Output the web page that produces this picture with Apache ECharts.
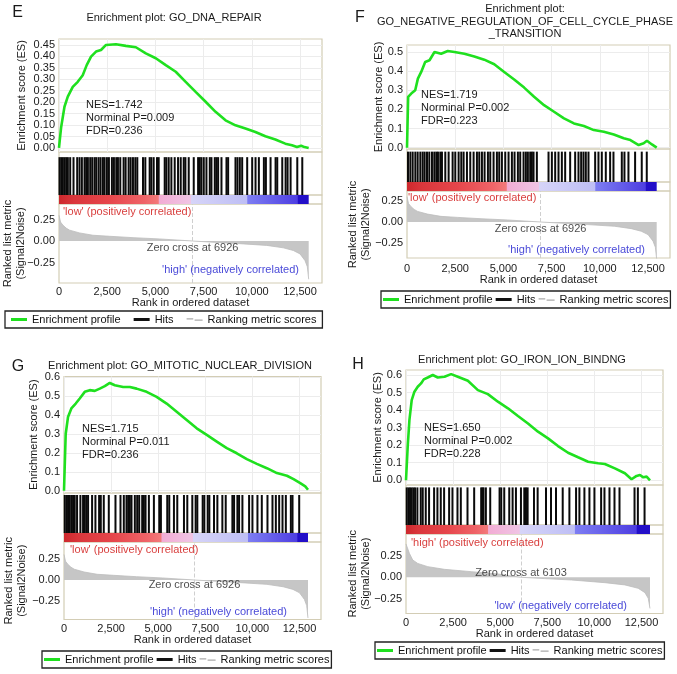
<!DOCTYPE html>
<html><head><meta charset="utf-8">
<script src="https://cdn.jsdelivr.net/npm/echarts@6/dist/echarts.min.js"></script>
<style>html,body{margin:0;padding:0;background:#fff}#c{width:677px;height:674px}</style>
</head><body><div id="c"></div>
<script>
// ---------------- DATA ----------------
const N_GENES = 12950;
const xTicks = [0, 2500, 5000, 7500, 10000, 12500];
const xTickLabels = ['0', '2,500', '5,000', '7,500', '10,000', '12,500'];
const rankTicks = [-0.25, 0, 0.25];
const esTicksE = [0, 0.05, 0.10, 0.15, 0.20, 0.25, 0.30, 0.35, 0.40, 0.45];
const esTicksF = [0, 0.1, 0.2, 0.3, 0.4, 0.5];
const esTicksGH = [0, 0.1, 0.2, 0.3, 0.4, 0.5, 0.6];

// Panel E: GO_DNA_REPAIR
const esRankE = [0, 40, 113, 284, 456, 714, 972, 1231, 1437, 1662, 1920, 2179, 2437, 2954, 3470, 3987, 4503, 5020, 5537, 6054, 6570, 7087, 7604, 8120, 8637, 9154, 9670, 10187, 10704, 11221, 11737, 12081, 12340, 12560, 12730, 12950];
const esValE = [0, 0.034, 0.092, 0.18, 0.224, 0.267, 0.289, 0.318, 0.362, 0.399, 0.421, 0.428, 0.45, 0.453, 0.446, 0.44, 0.413, 0.392, 0.362, 0.333, 0.289, 0.245, 0.202, 0.158, 0.121, 0.099, 0.085, 0.070, 0.051, 0.037, 0.019, 0.012, 0.004, 0.010, 0.004, 0.0];
const hitsE = [26, 113, 199, 286, 373, 459, 580, 753, 944, 1065, 1186, 1325, 1411, 1498, 1619, 1723, 1844, 1931, 2052, 2156, 2277, 2364, 2485, 2589, 2745, 2849, 2970, 3057, 3178, 3351, 3455, 3611, 3715, 3836, 3957, 4061, 4356, 4477, 4702, 4789, 4910, 5083, 5170, 5482, 5568, 5689, 5828, 6001, 6174, 6313, 6469, 6555, 6728, 6988, 7214, 7300, 7387, 7508, 7647, 7820, 7906, 8080, 8166, 8253, 8426, 8686, 8772, 9153, 9257, 9379, 9500, 9760, 10019, 10193, 10366, 10626, 10730, 10972, 11232, 11319, 11579, 11752, 11855, 12011, 12358, 12617];
const statsE = ['NES=1.742', 'Norminal P=0.009', 'FDR=0.236'];

// Panel F: GO_NEGATIVE_REGULATION_OF_CELL_CYCLE_PHASE_TRANSITION
const esRankF = [0, 60, 220, 426, 565, 737, 943, 1168, 1426, 1770, 2114, 2459, 2975, 3492, 4008, 4525, 5041, 5558, 6075, 6591, 7108, 7625, 8141, 8658, 9175, 9691, 10208, 10725, 11241, 11586, 12017, 12275, 12444, 12702, 12950];
const esValF = [0, 0.266, 0.283, 0.30, 0.361, 0.396, 0.448, 0.457, 0.50, 0.491, 0.505, 0.50, 0.491, 0.477, 0.46, 0.436, 0.396, 0.356, 0.314, 0.266, 0.222, 0.188, 0.153, 0.127, 0.113, 0.092, 0.083, 0.069, 0.049, 0.040, 0.014, 0.023, 0.036, 0.017, 0];
const hitsF = [52, 173, 294, 432, 553, 691, 812, 915, 1036, 1157, 1295, 1416, 1520, 1606, 1727, 1813, 1986, 2159, 2366, 2504, 2677, 2815, 2936, 3109, 3281, 3454, 3627, 3748, 3886, 4024, 4197, 4318, 4490, 4663, 4784, 4922, 5095, 5267, 5440, 5578, 5751, 5872, 6045, 6165, 6269, 6390, 6476, 6563, 6735, 7340, 7513, 7685, 7858, 8031, 8203, 8462, 8721, 8894, 9032, 9153, 9274, 9412, 9758, 9930, 10103, 10310, 10535, 10708, 11140, 11278, 11485, 11830, 12175, 12435];
const statsF = ['NES=1.719', 'Norminal P=0.002', 'FDR=0.223'];

// Panel G: GO_MITOTIC_NUCLEAR_DIVISION
const esRankG = [0, 90, 213, 390, 622, 835, 1101, 1367, 1633, 1899, 2165, 2431, 2697, 3139, 3495, 3852, 4384, 4916, 5448, 5980, 6512, 7044, 7576, 8108, 8640, 9172, 9704, 10236, 10768, 11300, 11832, 12183, 12539, 12805, 12950];
const esValG = [0, 0.30, 0.39, 0.435, 0.461, 0.488, 0.523, 0.532, 0.528, 0.54, 0.553, 0.57, 0.558, 0.549, 0.549, 0.54, 0.523, 0.496, 0.461, 0.418, 0.374, 0.33, 0.295, 0.26, 0.225, 0.198, 0.167, 0.142, 0.119, 0.093, 0.079, 0.061, 0.04, 0.023, 0.005];
const hitsG = [37, 126, 214, 303, 392, 480, 569, 693, 870, 1012, 1101, 1189, 1278, 1491, 1668, 1863, 1952, 2111, 2377, 2732, 2998, 3175, 3317, 3406, 3494, 3583, 3760, 3884, 3990, 4150, 4239, 4328, 4505, 4771, 5055, 5143, 5480, 5587, 5835, 6012, 6367, 6544, 6810, 6987, 7076, 7360, 7448, 7626, 7714, 7962, 8140, 8405, 8583, 8937, 9026, 9203, 9292, 9469, 9824, 10001, 10267, 10498, 10799, 11065, 11243, 11420, 11597, 11774, 12040, 12129, 12483];
const statsG = ['NES=1.715', 'Norminal P=0.011', 'FDR=0.236'];

// Panel H: GO_IRON_ION_BINDNG
const esRankH = [0, 90, 181, 303, 447, 622, 798, 942, 1154, 1420, 1686, 2043, 2394, 2750, 3284, 3815, 4346, 4878, 5410, 5942, 6474, 7006, 7538, 8070, 8602, 9134, 9666, 10198, 10553, 11085, 11617, 11970, 12236, 12418, 12594, 12771, 12950];
const esValH = [0, 0.192, 0.343, 0.457, 0.505, 0.533, 0.552, 0.575, 0.586, 0.60, 0.586, 0.59, 0.605, 0.59, 0.567, 0.514, 0.491, 0.448, 0.41, 0.366, 0.324, 0.277, 0.239, 0.195, 0.157, 0.131, 0.106, 0.097, 0.093, 0.068, 0.040, 0.006, 0.025, 0.03, 0.017, 0.021, 0];
const hitsH = [37, 126, 214, 303, 392, 480, 604, 782, 888, 1048, 1225, 1491, 1668, 1845, 2023, 2289, 2466, 2732, 2909, 3264, 3618, 3990, 4062, 4115, 4239, 4470, 4966, 5055, 5214, 5480, 5658, 5835, 6101, 6278, 6367, 6455, 6792, 6987, 7430, 7696, 7962, 8317, 8672, 9026, 9203, 9469, 9735, 10001, 10356, 10533, 10799, 11065, 11331, 12129, 12306, 12661];
const statsH = ['NES=1.650', 'Norminal P=0.002', 'FDR=0.228'];

// Ranked list metric (Signal2Noise): E, F, G share one ranking; H another
const metricRankA = [0, 80, 200, 370, 550, 1065, 1760, 2620, 3840, 5220, 6926, 8170, 9380, 10770, 11630, 12150, 12500, 12760, 12880, 12950];
const metricValA = [0.30, 0.22, 0.185, 0.15, 0.126, 0.094, 0.067, 0.055, 0.039, 0.024, 0, -0.016, -0.031, -0.051, -0.079, -0.11, -0.15, -0.228, -0.30, -0.445];
const zeroCrossA = 6926;
const cbBreaksA = [5200, 6870, 9790, 12410];
const metricRankH = [0, 180, 357, 623, 1155, 2042, 3460, 4879, 6103, 7360, 8779, 10552, 11616, 12325, 12680, 12857, 12950];
const metricValH = [0.385, 0.277, 0.20, 0.16, 0.123, 0.092, 0.065, 0.038, 0, -0.015, -0.031, -0.062, -0.088, -0.127, -0.177, -0.242, -0.36];
const zeroCrossH = 6103;
const cbBreaksH = [4380, 6065, 8990, 12270];

// ---------------- STYLE / LAYOUT ----------------
const FONT = '"Liberation Sans", Arial, Helvetica, sans-serif';
const X_MAX = 13640;
const GREEN = '#1fe01f';
const FRAME = '#d3cdb5';
const RED_TXT = '#d9403f';
const BLUE_TXT = '#4a4ad8';
const GRAY_ICON = 'path://M0,0L10,0L10,2L0,2Z M12,2L24,2L24,4L12,4Z';

const panels = [
  { letter: 'E', letterPos: [17.5, 12.5], title: 'Enrichment plot: GO_DNA_REPAIR', titlePos: [174, 18],
    left: 59, width: 263, esBox: [39, 113], hitBox: [152, 43], cbBox: [195, 9], rankBox: [204, 79],
    esMin: -0.0175, esMax: 0.476, esTicks: esTicksE, esDec: 2, rankMin: -0.488, rankMax: 0.43, hitTop: 0.88,
    esNameGap: 32, rankNameGap: 32, xLabMargin: 3.5, xNameGap: 14.5,
    esRank: esRankE, esVal: esValE, hits: hitsE, stats: statsE, statsPos: [86, 105],
    mRank: metricRankA, mVal: metricValA, zc: zeroCrossA, zcOff: 7, cbBreaks: cbBreaksA,
    posTxt: "'low' (positively correlated)", posPos: [63, 212], negTxt: "'high' (negatively correlated)", negPos: [299, 270],
    lg: { left: 5, top: 311, gap: 13, pad: [3, 6, 3, 6] } },
  { letter: 'F', letterPos: [360, 17.5], title: 'Enrichment plot:\nGO_NEGATIVE_REGULATION_OF_CELL_CYCLE_PHASE\n_TRANSITION', titlePos: [525, 21.5],
    left: 407, width: 263, esBox: [45, 104], hitBox: [149, 33], cbBox: [182, 9], rankBox: [191, 67],
    esMin: -0.0068, esMax: 0.5366, esTicks: esTicksF, esDec: 1, rankMin: -0.4286, rankMax: 0.369, hitTop: 0.92,
    esNameGap: 23, rankNameGap: 35, xLabMargin: 5.5, xNameGap: 16.5,
    esRank: esRankF, esVal: esValF, hits: hitsF, stats: statsF, statsPos: [421, 95],
    mRank: metricRankA, mVal: metricValA, zc: zeroCrossA, zcOff: 7, cbBreaks: cbBreaksA,
    posTxt: "'low' (positively correlated)", posPos: [408, 198], negTxt: "'high' (negatively correlated)", negPos: [645, 250],
    lg: { left: 381, top: 291, gap: 3, pad: [3, 2, 3, 2] } },
  { letter: 'G', letterPos: [18, 366.7], title: 'Enrichment plot: GO_MITOTIC_NUCLEAR_DIVISION', titlePos: [180, 365.7],
    left: 64, width: 257, esBox: [376.5, 116.5], hitBox: [493, 40], cbBox: [533, 9], rankBox: [542, 77.5],
    esMin: -0.0122, esMax: 0.6042, esTicks: esTicksGH, esDec: 1, rankMin: -0.463, rankMax: 0.4455, hitTop: 0.95,
    esNameGap: 25, rankNameGap: 36, xLabMargin: 4, xNameGap: 15,
    esRank: esRankG, esVal: esValG, hits: hitsG, stats: statsG, statsPos: [82, 429],
    mRank: metricRankA, mVal: metricValA, zc: zeroCrossA, zcOff: 5, cbBreaks: cbBreaksA,
    posTxt: "'low' (positively correlated)", posPos: [70, 550], negTxt: "'high' (negatively correlated)", negPos: [287, 612],
    lg: { left: 42, top: 651, gap: 3, pad: [3, 2, 3, 2] } },
  { letter: 'H', letterPos: [358, 365], title: 'Enrichment plot: GO_IRON_ION_BINDNG', titlePos: [522, 359.5],
    left: 406, width: 257, esBox: [370, 115], hitBox: [485, 40], cbBox: [525, 9], rankBox: [534, 79.5],
    esMin: -0.0268, esMax: 0.6285, esTicks: esTicksGH, esDec: 1, rankMin: -0.418, rankMax: 0.5, hitTop: 0.94,
    esNameGap: 22.5, rankNameGap: 34, xLabMargin: 4, xNameGap: 15,
    esRank: esRankH, esVal: esValH, hits: hitsH, stats: statsH, statsPos: [424, 428],
    mRank: metricRankH, mVal: metricValH, zc: zeroCrossH, zcOff: -4.7, cbBreaks: cbBreaksH,
    posTxt: "'high' (positively correlated)", posPos: [411, 543], negTxt: "'low' (negatively correlated)", negPos: [627, 606],
    lg: { left: 375, top: 642, gap: 3, pad: [3, 2, 3, 2] } }
];

function cbStops(br) {
  const b = br.map(v => v / N_GENES);
  return [
    [0, 'rgb(205,40,45)'], [b[0] * 0.15, 'rgb(218,55,60)'], [b[0] * 0.5, 'rgb(230,70,75)'],
    [b[0] * 0.85, 'rgb(239,100,104)'], [b[0] - 0.004, 'rgb(243,122,122)'],
    [b[0], 'rgb(242,172,212)'], [b[1] - 0.004, 'rgb(240,196,228)'],
    [b[1], 'rgb(214,212,248)'], [b[2] - 0.004, 'rgb(190,190,245)'],
    [b[2], 'rgb(125,125,242)'], [b[3] - 0.004, 'rgb(78,62,225)'],
    [b[3], 'rgb(35,15,200)'], [1, 'rgb(35,15,200)']
  ].map(([offset, color]) => ({ offset, color }));
}

const option = { animation: false, backgroundColor: '#fff', textStyle: { fontFamily: FONT },
  grid: [], xAxis: [], yAxis: [], series: [], title: [], legend: [] };

function addText(text, x, y, o) {
  o = o || {};
  option.title.push({ text, left: x, top: y, padding: 0, textAlign: o.align || 'left', textVerticalAlign: 'middle',
    textStyle: { fontFamily: FONT, fontSize: o.size || 11, fontWeight: 'normal', color: o.color || '#1a1a1a', lineHeight: o.lh || 13 } });
}

function hiddenAxis() {
  return { axisLine: { show: false }, axisTick: { show: false }, axisLabel: { show: false }, splitLine: { show: false } };
}

panels.forEach(p => {
  const base = option.grid.length;
  [p.esBox, p.hitBox, p.cbBox, p.rankBox].forEach(g => option.grid.push({
    left: p.left, width: p.width, top: g[0], height: g[1], show: true, borderColor: FRAME, borderWidth: 1.2,
    backgroundColor: 'rgba(0,0,0,0)', containLabel: false, outerBoundsMode: 'none' }));

  // x axes
  for (let k = 0; k < 4; k++) {
    const ax = Object.assign({ type: 'value', gridIndex: base + k, min: 0, max: X_MAX }, hiddenAxis());
    ax.axisTick.customValues = xTicks;
    ax.axisLabel.customValues = xTicks;
    if (k === 0) ax.splitLine = { show: true, lineStyle: { color: '#ececec', width: 1 } };
    if (k === 3) {
      ax.axisLabel = { show: true, customValues: xTicks, margin: p.xLabMargin, fontSize: 11, color: '#1a1a1a',
        formatter: v => xTickLabels[xTicks.indexOf(v)] };
      ax.name = 'Rank in ordered dataset';
      ax.nameLocation = 'middle';
      ax.nameGap = p.xNameGap;
      ax.nameMoveOverlap = false;
      ax.nameTextStyle = { fontSize: 11, color: '#1a1a1a', verticalAlign: 'top' };
    }
    option.xAxis.push(ax);
  }
  // y axes
  option.yAxis.push({ type: 'value', gridIndex: base, min: p.esMin, max: p.esMax,
    axisLine: { show: false }, axisTick: { show: false, customValues: p.esTicks },
    axisLabel: { customValues: p.esTicks, margin: 4, fontSize: 11, color: '#1a1a1a', formatter: v => v.toFixed(p.esDec) },
    splitLine: { show: true, lineStyle: { color: '#ececec', width: 1 } },
    name: 'Enrichment score (ES)', nameLocation: 'middle', nameGap: p.esNameGap, nameMoveOverlap: false,
    nameTextStyle: { fontSize: 11, color: '#1a1a1a' } });
  option.yAxis.push(Object.assign({ type: 'value', gridIndex: base + 1, min: 0, max: 1 }, hiddenAxis()));
  option.yAxis.push(Object.assign({ type: 'value', gridIndex: base + 2, min: 0, max: 1 }, hiddenAxis()));
  option.yAxis.push({ type: 'value', gridIndex: base + 3, min: p.rankMin, max: p.rankMax,
    axisLine: { show: false }, axisTick: { show: false, customValues: rankTicks },
    axisLabel: { customValues: rankTicks, margin: 4, fontSize: 11, color: '#1a1a1a', formatter: v => v.toFixed(2).replace('-', '\u2212') },
    splitLine: { show: false },
    name: 'Ranked list metric\n(Signal2Noise)', nameLocation: 'middle', nameGap: p.rankNameGap, nameMoveOverlap: false,
    nameTextStyle: { fontSize: 11, color: '#1a1a1a', lineHeight: 12.5 } });

  // series
  option.series.push({ type: 'line', name: 'Enrichment profile', xAxisIndex: base, yAxisIndex: base,
    data: p.esRank.map((r, j) => [r, p.esVal[j]]), symbol: 'none', silent: true,
    lineStyle: { color: GREEN, width: 2.6 }, itemStyle: { color: GREEN }, z: 3 });

  option.series.push({ type: 'custom', name: 'Hits', xAxisIndex: base + 1, yAxisIndex: base + 1, silent: true,
    data: p.hits.map(h => [h, 0]), encode: { x: 0, y: 1 }, itemStyle: { color: '#000' },
    renderItem: (params, api) => {
      const a = api.coord([api.value(0), 0]);
      const b = api.coord([api.value(0), p.hitTop]);
      return { type: 'line', shape: { x1: a[0], y1: a[1], x2: b[0], y2: b[1] }, style: { stroke: '#0a0a0a', lineWidth: 2 } };
    } });

  option.series.push({ type: 'custom', name: 'colorbar', xAxisIndex: base + 2, yAxisIndex: base + 2, silent: true,
    data: [[0, N_GENES]], encode: { x: [0, 1] },
    renderItem: (params, api) => {
      const a = api.coord([api.value(0), 1]);
      const b = api.coord([api.value(1), 0]);
      return { type: 'rect', shape: { x: a[0], y: a[1], width: b[0] - a[0], height: b[1] - a[1] },
        style: { fill: new echarts.graphic.LinearGradient(0, 0, 1, 0, cbStops(p.cbBreaks)) } };
    } });

  option.series.push({ type: 'line', name: 'Ranking metric scores', xAxisIndex: base + 3, yAxisIndex: base + 3, silent: true,
    data: p.mRank.map((r, j) => [r, p.mVal[j]]), symbol: 'none',
    lineStyle: { color: '#bdbdbd', width: 0.8 }, itemStyle: { color: '#b0b0b0' },
    areaStyle: { color: '#c6c6c6', opacity: 1 },
    markLine: { silent: true, symbol: 'none', label: { show: false },
      lineStyle: { color: '#cfcfcf', type: 'dashed', width: 1 }, data: [{ xAxis: p.zc }] } });

  option.series.push({ type: 'scatter', name: 'zc', xAxisIndex: base + 3, yAxisIndex: base + 3, silent: true,
    data: [[p.zc, 0]], symbolSize: 1, itemStyle: { color: 'rgba(0,0,0,0)' }, z: 5,
    label: { show: true, position: 'inside', offset: [0, p.zcOff], formatter: 'Zero cross at ' + p.zc,
      fontSize: 11, color: '#1a1a1a', fontFamily: FONT } });

  // texts
  addText(p.letter, p.letterPos[0], p.letterPos[1], { align: 'center', size: 16, lh: 18 });
  addText(p.title, p.titlePos[0], p.titlePos[1], { align: 'center', size: 11, lh: 12.5 });
  addText(p.stats.join('\n'), p.statsPos[0], p.statsPos[1] + 13, { size: 11, lh: 13 });
  addText(p.posTxt, p.posPos[0], p.posPos[1], { color: RED_TXT });
  addText(p.negTxt, p.negPos[0], p.negPos[1], { color: BLUE_TXT, align: 'right' });

  option.legend.push({ left: p.lg.left, top: p.lg.top, orient: 'horizontal', itemWidth: 16, itemHeight: 3,
    itemGap: p.lg.gap, padding: p.lg.pad, borderColor: '#222', borderWidth: 1.3, selectedMode: false,
    textStyle: { fontSize: 11, color: '#111', fontFamily: FONT },
    data: [ { name: 'Enrichment profile', icon: 'rect', itemStyle: { color: GREEN } },
            { name: 'Hits', icon: 'rect', itemStyle: { color: '#111' } },
            { name: 'Ranking metric scores', icon: GRAY_ICON, itemStyle: { color: '#aaaaaa' } } ] });
});

const chart = echarts.init(document.getElementById('c'), null, { renderer: 'canvas' });
chart.setOption(option);
</script>
</body></html>
